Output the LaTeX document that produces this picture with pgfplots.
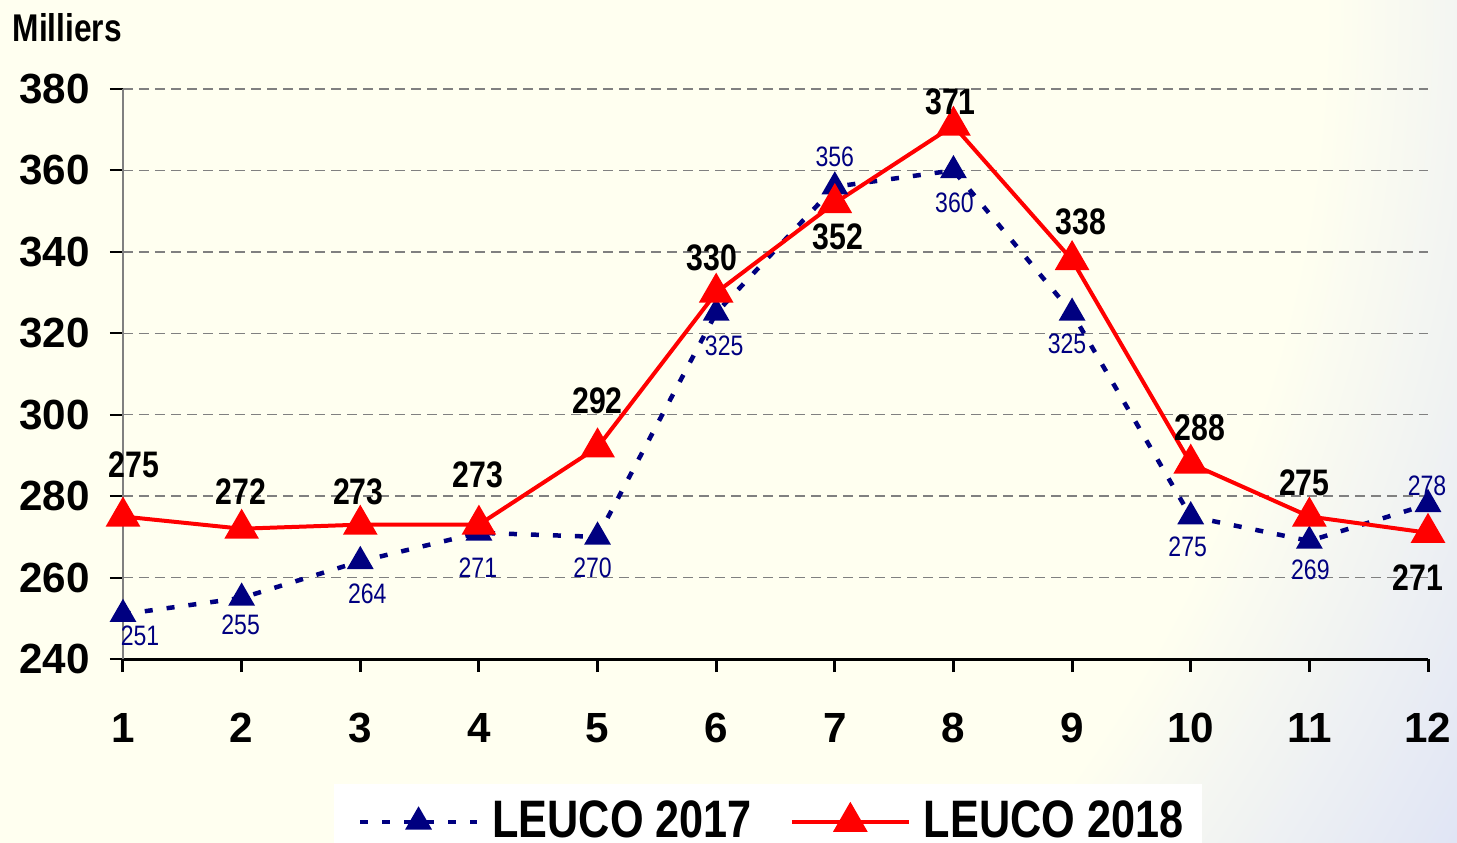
\documentclass[border=0pt]{standalone}
\usepackage{pgfplots}
\pgfplotsset{compat=1.18}
\usepackage{pgfplotstable}
\usepackage{fontspec}
\setmainfont{Liberation Sans}
\newfontfamily\narrow[FakeStretch=0.82]{Liberation Sans}
\definecolor{cream}{HTML}{FFFFF0}
\definecolor{bgblue}{HTML}{DFE4F5}
\definecolor{navy}{HTML}{000080}
\definecolor{gridgray}{HTML}{808080}
\definecolor{lred}{HTML}{FF0000}
\pgfdeclareradialshading{bgshade}{\pgfpointorigin}{color(0bp)=(cream); color(375bp)=(cream); color(480bp)=(bgblue)}

\pgfplotstableread{
x y dx dy
1 251 17 -22
2 255 -1 -27
3 264 7 -33
4 271 -1 -35
5 270 -5 -31
6 325 8 -33
7 356 0 30
8 360 1 -32
9 325 -5 -31
10 275 -3 -30
11 269 1 -29
12 278 -1 18
}\dataA

\pgfplotstableread{
x y dx dy
1 275 11 52
2 272 -1 37
3 273 -2 33
4 273 -1 50
5 292 0 47
6 330 -4 35
7 352 3 -34
8 371 -3 24
9 338 9 38
10 288 9 36
11 275 -5 34
12 271 -10 -45
}\dataB

\begin{document}
\begin{tikzpicture}
\useasboundingbox (0,0) rectangle (14.57,8.42);
\begin{scope}
\clip (0,0) rectangle (14.57,8.42);
\node[inner sep=0pt, outer sep=0pt] at (0,8.42) {\pgfuseshading{bgshade}};
\end{scope}
\clip (0,0) rectangle (14.57,8.42);
\begin{axis}[
  width=13.05cm, height=5.70cm, scale only axis,
  at={(1.23cm,1.83cm)}, anchor=south west,
  xmin=1, xmax=12, ymin=240, ymax=380,
  xtick={1,...,12}, ytick={240,260,...,380},
  axis x line*=bottom, axis y line*=left, axis line style={-},
  x axis line style={black, line width=0.03cm},
  y axis line style={gridgray, line width=0.02cm},
  tick align=outside, major tick length=0.13cm,
  xtick style={black, line width=0.03cm},
  ytick style={black, line width=0.02cm},
  ymajorgrids,
  grid style={gridgray, line width=0.015cm, dash pattern=on 0.1cm off 0.06cm},
  /pgf/number format/assume math mode=true,
  ticklabel style={font=\bfseries\fontsize{12}{14}\selectfont},
  yticklabel style={xshift=-0.08cm},
  xticklabel style={yshift=-0.29cm},
  clip=false,
  ylabel={Milliers},
  every axis y label/.style={at={(axis description cs:-0.0851,1.0825)}, anchor=base west, inner sep=0pt, font=\narrow\bfseries\fontsize{11}{13}\selectfont},
  legend columns=2,
  legend cell align=left,
  legend style={at={(axis description cs:0.161,-0.2175)}, anchor=north west, fill=white, draw=none,
    font=\narrow\bfseries\fontsize{15}{18}\selectfont,
    /tikz/every even column/.append style={column sep=0.19cm},
    inner xsep=0.12cm, inner ysep=0.1cm},
  legend image code/.code={\path (0cm,0cm) (1.35cm,0cm); \draw[mark repeat=2,mark phase=2,#1] plot coordinates {(0.12cm,0cm) (0.705cm,0cm) (1.29cm,0cm)};},
]
\addplot[navy, line width=0.045cm, dash pattern=on 0.08cm off 0.14cm,
  mark=triangle*, mark size=0.11cm, mark options={solid},
  nodes near coords,
  visualization depends on={\thisrow{dx}\as\dx},
  visualization depends on={\thisrow{dy}\as\dy},
  every node near coord/.append style={anchor=center, inner sep=0pt, text=navy,
    font=\narrow\fontsize{8}{10}\selectfont, xshift=\dx*0.01cm, yshift=\dy*0.01cm},
] table[x=x,y=y]{\dataA};
\addlegendentry{LEUCO 2017}
\addplot[lred, line width=0.04cm, solid,
  mark=triangle*, mark size=0.16cm, mark options={solid},
  nodes near coords,
  visualization depends on={\thisrow{dx}\as\dx},
  visualization depends on={\thisrow{dy}\as\dy},
  every node near coord/.append style={anchor=center, inner sep=0pt, text=black,
    font=\narrow\bfseries\fontsize{10.5}{12.5}\selectfont, xshift=\dx*0.01cm, yshift=\dy*0.01cm},
] table[x=x,y=y]{\dataB};
\addlegendentry{LEUCO 2018}
\end{axis}
\end{tikzpicture}
\end{document}
